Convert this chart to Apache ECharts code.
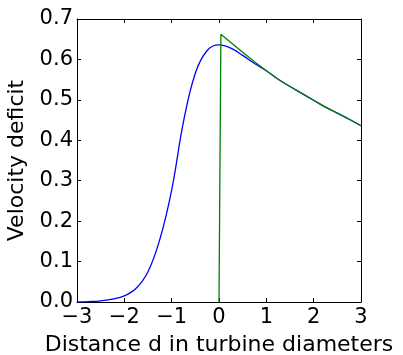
<!DOCTYPE html>
<html>
<head>
<meta charset="utf-8">
<script src="https://cdn.jsdelivr.net/npm/echarts@6/dist/echarts.min.js"></script>
<style>
html, body { margin: 0; padding: 0; background: #fff; }
#chart { width: 403px; height: 355px; }
</style>
</head>
<body>
<div id="chart"></div>
<script>
// values
var blueX = [-3.0, -2.75, -2.5, -2.25, -2.0, -1.75, -1.5, -1.25, -1.0, -0.75, -0.5, -0.25, 0.0, 0.25, 0.5, 0.75, 1.0, 1.25, 1.5, 1.75, 2.0, 2.25, 2.5, 2.75, 3.0];
var blueY = [0.000, 0.001, 0.003, 0.007, 0.015, 0.034, 0.075, 0.155, 0.277, 0.446, 0.566, 0.622, 0.636, 0.628, 0.610, 0.590, 0.572, 0.551, 0.533, 0.516, 0.499, 0.482, 0.467, 0.452, 0.436];
var greenX = [0.0, 0.04, 0.25, 0.5, 0.75, 1.0, 1.25, 1.5, 1.75, 2.0, 2.25, 2.5, 2.75, 3.0];
var greenY = [0.0, 0.662, 0.642, 0.618, 0.594, 0.572, 0.551, 0.533, 0.516, 0.499, 0.482, 0.467, 0.452, 0.436];
var xTicks = [-3, -2, -1, 0, 1, 2, 3];

function pairs(xs, ys) {
	var out = [];
	for (var i = 0; i < xs.length; ++i) {
		out.push([xs[i], ys[i]]);
	}
	return out;
}

var font = 'DejaVu Sans';
var lineStyle = { color: '#000', width: 1 };

var option = {
	animation: false,
	grid: { left: 77, top: 19, width: 284, height: 283, containLabel: false, outerBoundsMode: 'none' },
	xAxis: [{
		type: 'value', min: xTicks[0], max: xTicks[xTicks.length - 1], interval: 1,
		name: 'Distance d in turbine diameters', nameLocation: 'middle', nameGap: 32,
		nameTextStyle: { fontFamily: font, fontSize: 22, color: '#000' },
		axisLine: { show: true, onZero: false, lineStyle: lineStyle },
		axisTick: { show: true, inside: true, length: 4, lineStyle: lineStyle },
		axisLabel: { fontFamily: font, fontSize: 21, color: '#000', margin: 5,
			formatter: function(v){ return String(v).replace('-', '\u2212'); } },
		splitLine: { show: false }
	}, {
		type: 'value', position: 'top', min: -3, max: 3, interval: 1,
		axisLine: { show: true, onZero: false, lineStyle: lineStyle },
		axisTick: { show: true, inside: true, length: 4, lineStyle: lineStyle },
		axisLabel: { show: false },
		splitLine: { show: false }
	}],
	yAxis: [{
		type: 'value', min: 0, max: 0.7, interval: 0.1,
		name: 'Velocity deficit', nameLocation: 'middle', nameGap: 47,
		nameTextStyle: { fontFamily: font, fontSize: 22, color: '#000' },
		axisLine: { show: true, onZero: false, lineStyle: lineStyle },
		axisTick: { show: true, inside: true, length: 4, lineStyle: lineStyle },
		axisLabel: { fontFamily: font, fontSize: 21, color: '#000', margin: 4,
			formatter: function(v){ return v.toFixed(1); } },
		splitLine: { show: false }
	}, {
		type: 'value', position: 'right', min: 0, max: 0.7, interval: 0.1,
		axisLine: { show: true, onZero: false, lineStyle: lineStyle },
		axisTick: { show: true, inside: true, length: 4, lineStyle: lineStyle },
		axisLabel: { show: false },
		splitLine: { show: false }
	}],
	series: [{
		type: 'line', data: pairs(blueX, blueY), showSymbol: false,
		smooth: 0.4,
		lineStyle: { color: '#0000ff', width: 1.3 }
	}, {
		type: 'line', data: pairs(greenX, greenY), showSymbol: false,
		lineStyle: { color: '#008000', width: 1.3 }
	}]
};

var myChart = echarts.init(document.getElementById('chart'));
myChart.setOption(option);
</script>
</body>
</html>
